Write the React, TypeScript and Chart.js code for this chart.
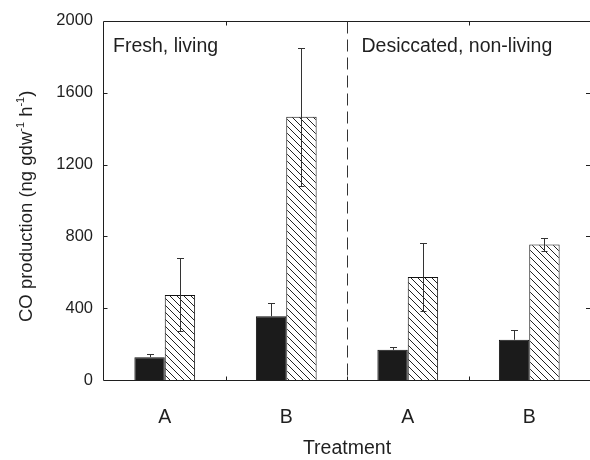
import React, { useEffect, useRef } from "react";
import { Chart, registerables } from "chart.js";

Chart.register(...registerables);

// ---- data ----
const categories = ["A", "B", "A", "B"];
const solidValues = [127, 355, 168, 224];
const solidErrors = [17, 73, 15, 54];
const hatchedValues = [474, 1466, 573, 755];
const hatchedErrors = [203, 383, 189, 35];
const yMin = 0;
const yMax = 2000;
const yStep = 400;
const panelLabels = ["Fresh, living", "Desiccated, non-living"];
const xTitle = "Treatment";
const yTitleParts: [string, boolean][] = [
  ["CO production (ng gdw", false],
  ["-1", true],
  [" h", false],
  ["-1", true],
  [")", false],
];

const FONT = '"Liberation Sans", Arial, Helvetica, sans-serif';
const INK = "#1f1f1f";

function makeHatch(): CanvasPattern | string {
  const s = 7;
  const c = document.createElement("canvas");
  c.width = s;
  c.height = s;
  const g = c.getContext("2d");
  if (!g) return "#fff";
  g.fillStyle = "#ffffff";
  g.fillRect(0, 0, s, s);
  g.strokeStyle = "#222";
  g.lineWidth = 1;
  for (const k of [-s, 0, s]) {
    g.beginPath();
    g.moveTo(k - 1, -1);
    g.lineTo(k + s + 1, s + 1);
    g.stroke();
  }
  const p = g.createPattern(c, "repeat");
  return p || "#fff";
}

const errorBarsPlugin = {
  id: "errorBars",
  afterDatasetsDraw(chart: any) {
    const ctx = chart.ctx as CanvasRenderingContext2D;
    const y = chart.scales.y;
    const sets = [
      { errs: solidErrors, vals: solidValues, both: false },
      { errs: hatchedErrors, vals: hatchedValues, both: true },
    ];
    ctx.save();
    ctx.strokeStyle = "#333";
    ctx.lineWidth = 1;
    sets.forEach((s, di) => {
      const meta = chart.getDatasetMeta(di);
      meta.data.forEach((el: any, i: number) => {
        const v = s.vals[i];
        const e = s.errs[i];
        const x = Math.round(el.x) + 0.5;
        const yt = Math.round(y.getPixelForValue(v + e)) + 0.5;
        const yb = s.both ? Math.round(y.getPixelForValue(v - e)) + 0.5 : el.y;
        ctx.beginPath();
        ctx.moveTo(x, yb);
        ctx.lineTo(x, yt);
        ctx.moveTo(x - 3.5, yt);
        ctx.lineTo(x + 3.5, yt);
        if (s.both) {
          ctx.moveTo(x - 3, yb);
          ctx.lineTo(x + 3, yb);
        }
        ctx.stroke();
      });
    });
    ctx.restore();
  },
};

const framePlugin = {
  id: "frame",
  afterDatasetsDraw(chart: any) {
    const ctx = chart.ctx as CanvasRenderingContext2D;
    const { left, right, top, bottom } = chart.chartArea;
    const xs = chart.scales.x;
    const ys = chart.scales.y;
    const L = Math.round(left) - 0.5;
    const T = Math.round(top) + 0.5;
    const B = Math.round(bottom) + 0.5;
    ctx.save();
    ctx.strokeStyle = INK;
    ctx.lineWidth = 1;
    ctx.beginPath();
    ctx.moveTo(L, T);
    ctx.lineTo(right, T);
    ctx.moveTo(L, T);
    ctx.lineTo(L, B);
    ctx.moveTo(L, B);
    ctx.lineTo(right, B);
    // y ticks (inward, both sides)
    for (let v = yMin + yStep; v < yMax; v += yStep) {
      const py = Math.round(ys.getPixelForValue(v)) + 0.5;
      ctx.moveTo(L, py);
      ctx.lineTo(L + 4, py);
      ctx.moveTo(right - 4, py);
      ctx.lineTo(right, py);
    }
    // x ticks between categories (inward, top and bottom)
    const bounds: number[] = [];
    for (let i = 0; i < categories.length - 1; i++) {
      const px = (xs.getPixelForValue(i) + xs.getPixelForValue(i + 1)) / 2;
      bounds.push(Math.round(px) + 0.5);
    }
    bounds.forEach((px) => {
      ctx.moveTo(px, B);
      ctx.lineTo(px, B - 4);
      ctx.moveTo(px, T);
      ctx.lineTo(px, T + 4);
    });
    ctx.stroke();

    // dashed separator between living and non-living panels
    const mid = bounds[1];
    ctx.setLineDash([12, 6]);
    ctx.strokeStyle = "#333";
    ctx.beginPath();
    ctx.moveTo(mid, T);
    ctx.lineTo(mid, B);
    ctx.stroke();
    ctx.setLineDash([]);

    // panel labels
    ctx.fillStyle = INK;
    ctx.font = `19.5px ${FONT}`;
    ctx.textBaseline = "alphabetic";
    ctx.textAlign = "left";
    ctx.fillText(panelLabels[0], L + 9.5, 52);
    ctx.fillText(panelLabels[1], mid + 14, 52);

    // y axis title with superscripts (rotated)
    ctx.translate(32, 322);
    ctx.rotate(-Math.PI / 2);
    let cx = 0;
    yTitleParts.forEach(([t, sup]) => {
      ctx.font = sup ? `11px ${FONT}` : `18.5px ${FONT}`;
      ctx.fillText(t, cx, sup ? -8 : 0);
      cx += ctx.measureText(t).width;
    });
    ctx.restore();
  },
};

export default function App() {
  const ref = useRef<HTMLCanvasElement | null>(null);

  useEffect(() => {
    document.body.style.margin = "0";
    const canvas = ref.current;
    if (!canvas) return;
    const hatch = makeHatch();
    const chart = new Chart(canvas, {
      type: "bar",
      data: {
        labels: categories,
        datasets: [
          {
            label: "solid",
            data: solidValues,
            backgroundColor: "#1b1b1b",
            borderColor: "#111",
            borderWidth: 1,
            categoryPercentage: 0.5,
            barPercentage: 1,
          },
          {
            label: "hatched",
            data: hatchedValues,
            backgroundColor: hatch as any,
            borderColor: "#111",
            borderWidth: 1,
            categoryPercentage: 0.5,
            barPercentage: 1,
          },
        ],
      },
      options: {
        responsive: false,
        maintainAspectRatio: false,
        animation: false,
        layout: { padding: { top: 16, right: 0, left: 0, bottom: 0 } },
        plugins: {
          legend: { display: false },
          tooltip: { enabled: false },
        },
        scales: {
          x: {
            grid: { display: false, drawTicks: false },
            border: { display: false },
            ticks: {
              color: INK,
              font: { family: FONT, size: 19.5 },
              padding: 26,
            },
            title: {
              display: true,
              text: xTitle,
              color: INK,
              font: { family: FONT, size: 19.5 },
              padding: { top: 0, bottom: 0 },
            },
            afterFit: (s: any) => {
              s.height = 80;
            },
          },
          y: {
            min: yMin,
            max: yMax,
            grid: { display: false, drawTicks: false },
            border: { display: false },
            ticks: {
              stepSize: yStep,
              color: INK,
              font: { family: FONT, size: 16.5 },
              padding: 11,
              callback: (v: any) => String(v),
            },
            afterFit: (s: any) => {
              s.width = 104;
            },
          },
        },
      },
      plugins: [errorBarsPlugin, framePlugin],
    });
    return () => chart.destroy();
  }, []);

  return (
    <div style={{ width: 590, height: 460 }}>
      <canvas ref={ref} width={590} height={460} style={{ display: "block" }} />
    </div>
  );
}
